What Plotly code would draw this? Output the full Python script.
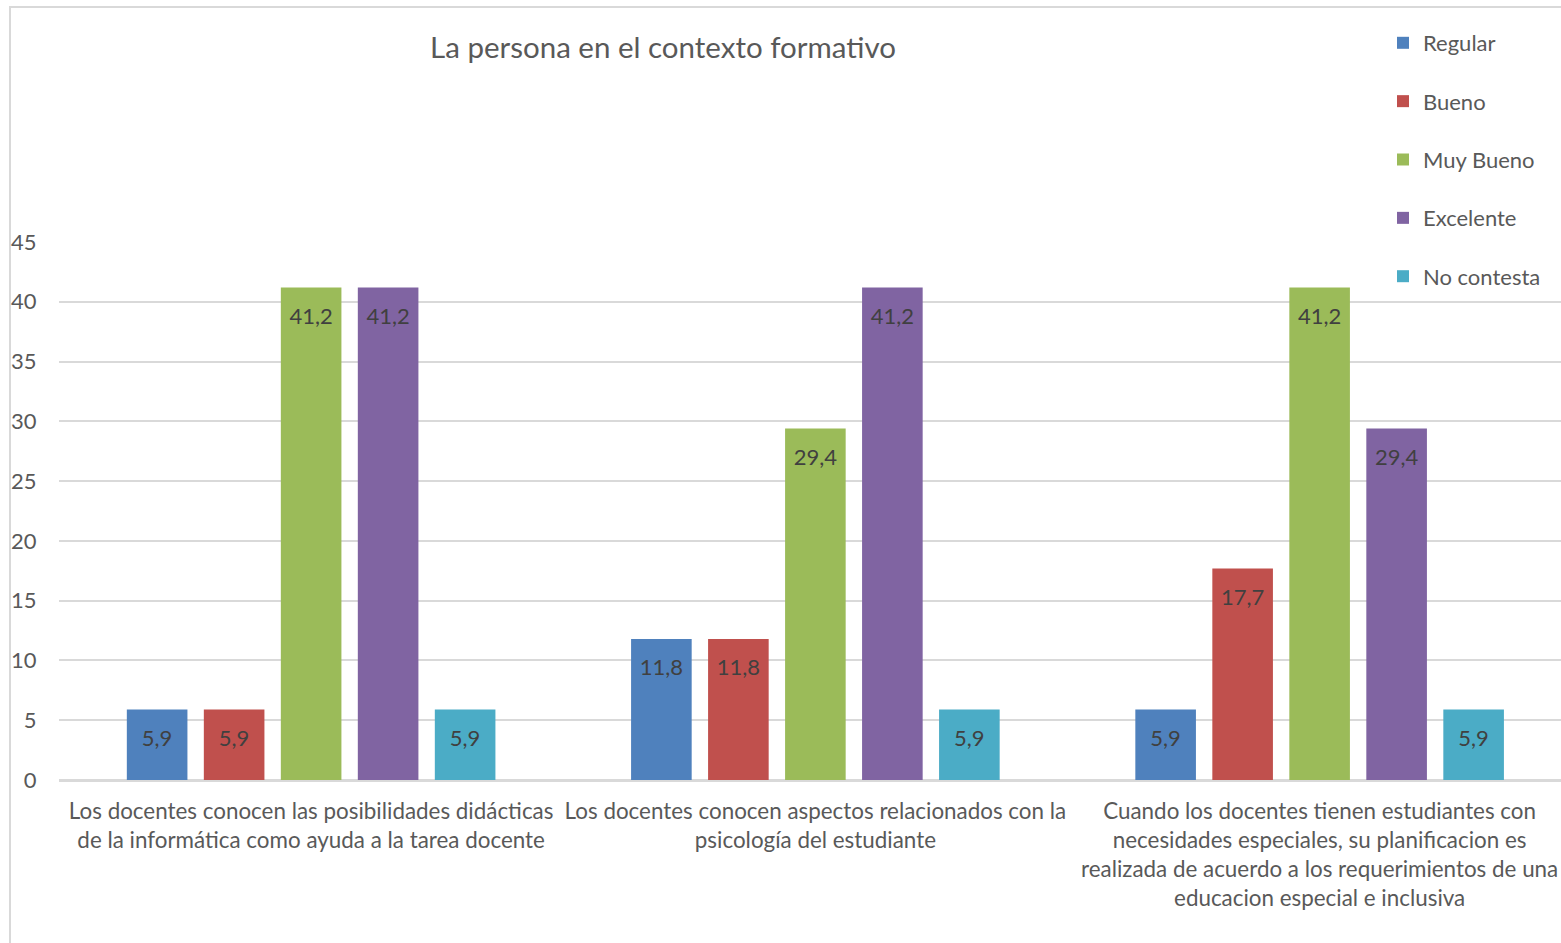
import plotly.graph_objects as go

categories = [
    "Los docentes conocen las posibilidades didácticas<br>de la informática como ayuda a la tarea docente",
    "Los docentes conocen aspectos relacionados con la<br>psicología del estudiante",
    "Cuando los docentes tienen estudiantes con<br>necesidades especiales, su planificacion es<br>realizada de acuerdo a los requerimientos de una<br>educacion especial e inclusiva",
]
regular = [5.9, 11.8, 5.9]
bueno = [5.9, 11.8, 17.7]
muy_bueno = [41.2, 29.4, 41.2]
excelente = [41.2, 41.2, 29.4]
no_contesta = [5.9, 5.9, 5.9]

series = [
    ("Regular", regular, "#4F81BD"),
    ("Bueno", bueno, "#C0504D"),
    ("Muy Bueno", muy_bueno, "#9BBB59"),
    ("Excelente", excelente, "#8064A2"),
    ("No contesta", no_contesta, "#4BACC6"),
]

FONT = "Lato"
FS = 22
W, H = 1561, 943
ML, MT = 59, 242
PH = 538
PW = W - ML
CATW = 504.25  # pixel width of one category in the reference

fig = go.Figure()
for i, (name, vals, color) in enumerate(series):
    fig.add_trace(go.Bar(
        name=name, x=categories, y=vals,
        marker=dict(color=color, line=dict(width=0)),
        offsetgroup=str(i), legendgroup=name,
        hoverinfo="y",
    ))
for i, (name, vals, color) in enumerate(series):
    fig.add_trace(go.Scatter(
        name=name, x=categories, y=vals, mode="markers+text",
        marker=dict(size=30, opacity=0, color=color),
        text=[f"{v:.1f}".replace(".", ",") for v in vals],
        textposition="bottom center",
        textfont=dict(family=FONT, size=FS, color="#404040"),
        offsetgroup=str(i), showlegend=False, hoverinfo="skip",
    ))

fig.update_layout(
    width=W, height=H,
    paper_bgcolor="white", plot_bgcolor="white",
    margin=dict(l=ML, r=0, t=MT, b=H - MT - PH),
    barmode="group", bargap=0.2365, bargroupgap=0.213,
    scattermode="group", scattergap=0.2365,
    font=dict(family=FONT, color="#595959", size=FS),
    title=dict(text="La persona en el contexto formativo",
               x=(663 - ML) / PW, xref="paper", xanchor="center",
               y=1 - 48 / H, yref="container", yanchor="middle",
               font=dict(family=FONT, size=29.5, color="#595959")),
    legend=dict(x=(1383 - ML) / PW, y=(MT + PH - 22) / PH, xanchor="left", yanchor="top",
                font=dict(family=FONT, size=FS, color="#595959"),
                tracegroupgap=26.75, itemwidth=30, bgcolor="rgba(0,0,0,0)"),
    showlegend=True,
)
fig.update_yaxes(range=[0, 45], dtick=5, showgrid=True, gridcolor="#d9d9d9", gridwidth=1.5,
                 zeroline=True, zerolinecolor="#d9d9d9", zerolinewidth=1.5,
                 showline=False, ticks="outside", ticklen=17, tickcolor="rgba(0,0,0,0)",
                 tickfont=dict(family=FONT, size=FS, color="#595959"))
fig.update_xaxes(range=[-0.5, -0.5 + PW / CATW],
                 showline=True, linecolor="#d9d9d9", linewidth=1.5,
                 ticks="outside", ticklen=10, tickcolor="rgba(0,0,0,0)",
                 tickfont=dict(family=FONT, size=22.4, color="#595959"))

fig.add_shape(type="rect", xref="paper", yref="paper",
              x0=(10 - ML) / PW, x1=1.02, y0=-0.4, y1=(MT + PH - 7) / PH,
              line=dict(color="#d9d9d9", width=2), fillcolor="rgba(0,0,0,0)", layer="below")

fig.write_html(
    "out.html",
    config={"displayModeBar": False},
    post_script="document.body.style.margin='0';document.body.style.overflow='hidden';",
)
